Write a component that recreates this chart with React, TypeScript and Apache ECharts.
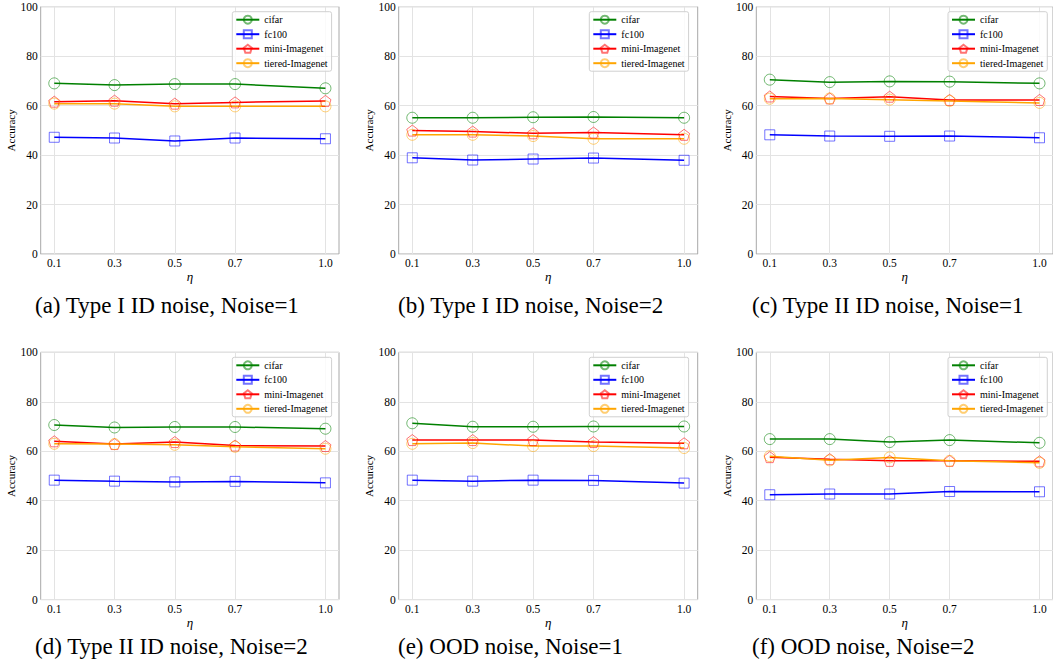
import React, { useEffect, useRef } from "react";
import * as echarts from "echarts";

const etaValues = [0.1, 0.3, 0.5, 0.7, 1.0];
const datasetNames = ["cifar", "fc100", "mini-Imagenet", "tiered-Imagenet"];
const yTicks = [0, 20, 40, 60, 80, 100];
const captions = [
  "(a) Type I ID noise, Noise=1",
  "(b) Type I ID noise, Noise=2",
  "(c) Type II ID noise, Noise=1",
  "(d) Type II ID noise, Noise=2",
  "(e) OOD noise, Noise=1",
  "(f) OOD noise, Noise=2",
];

// (a) Type I ID noise, Noise=1
const aCifar = [69.0, 68.3, 68.7, 68.7, 67.0];
const aFc100 = [47.2, 46.9, 45.7, 46.9, 46.6];
const aMini = [61.6, 62.0, 60.8, 61.3, 61.9];
const aTiered = [60.8, 60.8, 59.7, 59.7, 59.7];
// (b) Type I ID noise, Noise=2
const bCifar = [55.1, 55.1, 55.3, 55.4, 55.1];
const bFc100 = [38.9, 38.0, 38.4, 38.8, 37.9];
const bMini = [49.9, 49.5, 48.8, 49.1, 48.2];
const bTiered = [48.2, 48.2, 47.7, 46.6, 46.6];
// (c) Type II ID noise, Noise=1
const cCifar = [70.5, 69.5, 69.8, 69.7, 69.0];
const cFc100 = [48.2, 47.7, 47.6, 47.7, 47.0];
const cMini = [63.7, 62.9, 63.6, 62.3, 62.3];
const cTiered = [62.8, 62.9, 62.4, 61.9, 61.1];
// (d) Type II ID noise, Noise=2
const dCifar = [70.6, 69.6, 69.8, 69.8, 69.1];
const dFc100 = [48.3, 47.9, 47.6, 47.8, 47.2];
const dMini = [64.0, 62.9, 63.7, 62.3, 62.1];
const dTiered = [63.0, 62.9, 62.6, 61.8, 61.0];
// (e) OOD noise, Noise=1
const eCifar = [71.3, 69.9, 69.9, 70.0, 70.0];
const eFc100 = [48.3, 47.9, 48.3, 48.2, 47.1];
const eMini = [64.5, 64.5, 64.5, 63.7, 63.2];
const eTiered = [63.0, 63.3, 62.1, 62.1, 61.3];
// (f) OOD noise, Noise=2
const fCifar = [64.9, 64.9, 63.7, 64.5, 63.4];
const fFc100 = [42.4, 42.7, 42.7, 43.7, 43.6];
const fMini = [57.6, 56.8, 56.1, 56.1, 55.9];
const fTiered = [58.0, 56.3, 57.5, 56.1, 55.3];

const panels = [
  [aCifar, aFc100, aMini, aTiered],
  [bCifar, bFc100, bMini, bTiered],
  [cCifar, cFc100, cMini, cTiered],
  [dCifar, dFc100, dMini, dTiered],
  [eCifar, eFc100, eMini, eTiered],
  [fCifar, fFc100, fMini, fTiered],
];

const lineColors = ["#008000", "#0000ff", "#ff0000", "#ffa500"];
const markerColors = [
  "rgba(0,128,0,0.55)",
  "rgba(0,0,255,0.55)",
  "rgba(255,0,0,0.55)",
  "rgba(255,165,0,0.55)",
];
const pentagon =
  "path://M0,-1 L0.951,-0.309 L0.588,0.809 L-0.588,0.809 L-0.951,-0.309 Z";
const symbols = ["circle", "rect", pentagon, "circle"];

// layout
const gridLefts = [40.7, 398.7, 756.3];
const gridWidths = [298.3, 299, 297];
const gridTops = [6.7, 352.3];
const gridHeight = 247.3;
const legendLefts = [232.3, 589.3, 948];
const legendTops = [11.7, 357.3];
const captionLefts = [35, 398, 752];
const captionYs = [306.5, 648];

const serif = "'Liberation Serif', 'Times New Roman', serif";

export default function App() {
  const ref = useRef<HTMLDivElement>(null);
  useEffect(() => {
    if (!ref.current) return;
    const chart = echarts.init(ref.current, null, { renderer: "svg" });
    const grids: any[] = [];
    const xAxes: any[] = [];
    const yAxes: any[] = [];
    const legends: any[] = [];
    const series: any[] = [];
    const graphics: any[] = [];
    panels.forEach((panel, p) => {
      const col = p % 3;
      const row = Math.floor(p / 3);
      grids.push({
        left: gridLefts[col],
        top: gridTops[row],
        width: gridWidths[col],
        height: gridHeight,
        show: true,
        borderColor: "#a8a8a8",
        borderWidth: 1,
        containLabel: false,
      });
      xAxes.push({
        type: "value",
        gridIndex: p,
        min: 0.055,
        max: 1.045,
        name: "η",
        nameLocation: "middle",
        nameGap: 10,
        nameTextStyle: { fontFamily: serif, fontStyle: "italic", fontSize: 13, color: "#000" },
        axisLine: { show: false },
        axisTick: { show: false, customValues: etaValues },
        axisLabel: {
          customValues: etaValues,
          formatter: (v: number) => v.toFixed(1),
          fontFamily: serif,
          fontSize: 11.5,
          color: "#000",
          margin: 3,
        },
        splitLine: { show: true, lineStyle: { color: "#e3e3e3", width: 1 } },
      });
      yAxes.push({
        type: "value",
        gridIndex: p,
        min: yTicks[0],
        max: yTicks[yTicks.length - 1],
        interval: 20,
        name: "Accuracy",
        nameLocation: "middle",
        nameGap: 21,
        nameTextStyle: { fontFamily: serif, fontSize: 11, color: "#000" },
        axisLine: { show: false },
        axisTick: { show: false },
        axisLabel: { fontFamily: serif, fontSize: 11.5, color: "#000", margin: 3 },
        splitLine: { show: true, lineStyle: { color: "#e3e3e3", width: 1 } },
      });
      legends.push({
        orient: "vertical",
        left: legendLefts[col],
        top: legendTops[row],
        itemWidth: 23,
        itemHeight: 10,
        itemGap: 4.5,
        padding: [3, 4, 3, 3],
        borderColor: "#d0d0d0",
        borderWidth: 1,
        borderRadius: 2,
        backgroundColor: "rgba(255,255,255,0.8)",
        textStyle: { fontFamily: serif, fontSize: 10, color: "#000" },
        data: datasetNames,
      });
      panel.forEach((vals, s) => {
        series.push({
          type: "line",
          name: datasetNames[s],
          xAxisIndex: p,
          yAxisIndex: p,
          data: etaValues.map((x, i) => [x, vals[i]]),
          symbol: symbols[s],
          symbolSize: s === 1 ? 10 : 11,
          showSymbol: true,
          lineStyle: { color: lineColors[s], width: 1.5 },
          itemStyle: {
            color: "rgba(255,255,255,0)",
            borderColor: markerColors[s],
            borderWidth: 1,
          },
          emphasis: { disabled: true },
        });
      });
      graphics.push({
        type: "text",
        left: captionLefts[col],
        top: captionYs[row] - 13,
        style: {
          text: captions[p],
          font: `23px ${serif}`,
          fill: "#000",
        },
      });
    });
    chart.setOption({
      animation: false,
      backgroundColor: "#fff",
      grid: grids,
      xAxis: xAxes,
      yAxis: yAxes,
      legend: legends,
      series,
      graphic: graphics,
    });
    return () => chart.dispose();
  }, []);
  return (
    <div
      ref={ref}
      style={{ position: "absolute", left: 0, top: 0, width: 1053, height: 670 }}
    />
  );
}
